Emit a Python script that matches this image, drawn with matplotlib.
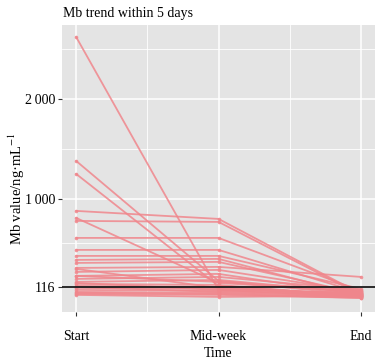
import matplotlib
matplotlib.use("Agg")
import matplotlib.pyplot as plt
import numpy as np

plt.rcParams['font.family'] = ['Liberation Serif', 'DejaVu Serif']
plt.rcParams['mathtext.fontset'] = 'stix'

time_labels = ["Start", "Mid-week", "End"]
start_vals = [2620, 1380, 1250, 880, 810, 780, 610, 490, 430, 390, 360, 310, 270, 230,
              200, 170, 150, 130, 110, 90, 70, 50, 40, 230, 300, 160, 120, 60]
mid_vals = [90, 180, 130, 800, 160, 770, 610, 490, 430, 400, 370, 320, 290, 250,
            220, 190, 140, 120, 100, 80, 60, 40, 20, 170, 110, 90, 70, 50]
end_vals = [60, 40, 30, 50, 70, 40, 80, 60, 100, 30, 50, 220, 70, 40,
            90, 60, 30, 20, 50, 40, 20, 10, 30, 80, 50, 20, 30, 10]
threshold = 116
y_ticks = [116, 1000, 2000]
y_ticklabels = ["116", "1\u2009000", "2\u2009000"]

fig = plt.figure(figsize=(3.82, 3.61), dpi=100)
ax = fig.add_axes([0.162, 0.136, 0.82, 0.795])
ax.set_facecolor('#E4E4E4')

x = np.arange(1, len(time_labels) + 1)
col = '#F0868C'
for s, m, e in zip(start_vals, mid_vals, end_vals):
    ax.plot(x, [s, m, e], color=col, lw=1.3, alpha=0.85, zorder=3,
            marker='o', ms=2.6, mec='none', solid_capstyle='round')

ax.axhline(threshold, color='#1a1a1a', lw=1.3, zorder=4)

ax.set_xlim(0.9, 3.1)
ax.set_ylim(-130, 2740)
ax.set_xticks(x)
ax.set_xticklabels(time_labels)
ax.set_yticks(y_ticks)
ax.set_yticklabels(y_ticklabels)

for v in [558, 1500, 2500]:
    ax.axhline(v, color='white', lw=0.6, zorder=1)
for v in [1.5, 2.5]:
    ax.axvline(v, color='white', lw=0.6, zorder=1)
for v in y_ticks:
    ax.axhline(v, color='white', lw=1.1, zorder=1)
for v in x:
    ax.axvline(v, color='white', lw=1.1, zorder=1)

for sp in ax.spines.values():
    sp.set_visible(False)
ax.tick_params(axis='both', length=3, width=0.8, color='#333333', labelsize=10,
               labelcolor='black')
ax.tick_params(axis='x', pad=10)
ax.tick_params(axis='y', pad=2)

ax.set_xlabel("Time", fontsize=10, labelpad=3)
ax.set_ylabel("Mb value/ng\u00b7mL$^{-1}$", fontsize=10.5)
ax.yaxis.set_label_coords(-0.11, 0.43)
fig.text(0.165, 0.963, "Mb trend within 5 days", fontsize=10, ha='left', va='center')

fig.savefig("out.png", dpi=100)
